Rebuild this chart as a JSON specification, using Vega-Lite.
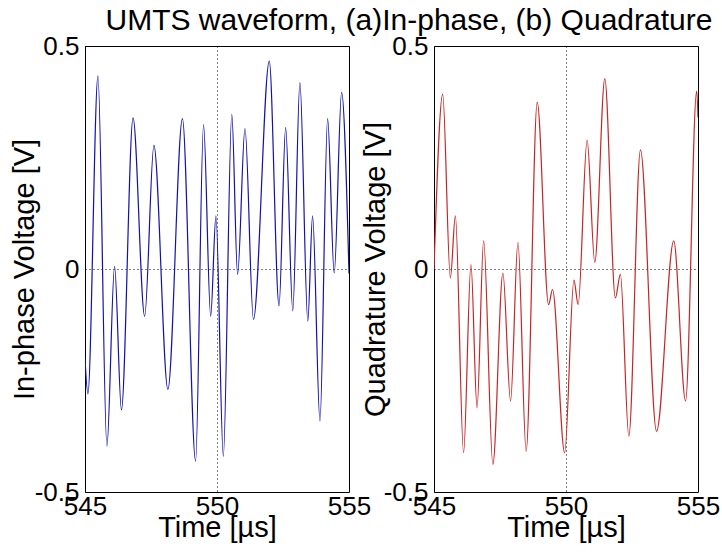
{
  "$schema": "https://vega.github.io/schema/vega-lite/v6.json",
  "background": "white",
  "padding": {"left": 9, "top": 5, "right": 5, "bottom": 5},
  "config": {
    "font": "Liberation Sans",
    "view": {"stroke": "black", "strokeWidth": 1},
    "axis": {
      "domain": false,
      "ticks": false,
      "grid": true,
      "gridColor": "black",
      "gridDash": [1, 3],
      "gridWidth": 1,
      "gridOpacity": 1,
      "labelColor": "black",
      "labelFontSize": 26,
      "labelFlush": false,
      "labelOverlap": false,
      "titleColor": "black",
      "titleFontSize": 29,
      "titleFontWeight": "normal",
      "labelExpr": "'' + datum.value"
    },
    "axisX": {"labelPadding": 1, "titlePadding": -6},
    "axisY": {"labelPadding": 6}
  },
  "datasets": {
    "I": [
      {"t": 545.00, "v": -0.20},
      {"t": 545.11, "v": -0.28},
      {"t": 545.49, "v": 0.433},
      {"t": 545.83, "v": -0.397},
      {"t": 546.12, "v": 0.006},
      {"t": 546.38, "v": -0.316},
      {"t": 546.82, "v": 0.339},
      {"t": 547.26, "v": -0.106},
      {"t": 547.61, "v": 0.277},
      {"t": 548.14, "v": -0.27},
      {"t": 548.69, "v": 0.337},
      {"t": 549.19, "v": -0.431},
      {"t": 549.49, "v": 0.324},
      {"t": 549.76, "v": -0.106},
      {"t": 549.96, "v": 0.119},
      {"t": 550.24, "v": -0.42},
      {"t": 550.56, "v": 0.347},
      {"t": 550.78, "v": -0.012},
      {"t": 551.06, "v": 0.315},
      {"t": 551.38, "v": -0.113},
      {"t": 551.98, "v": 0.466},
      {"t": 552.35, "v": -0.083},
      {"t": 552.60, "v": 0.317},
      {"t": 552.87, "v": -0.094},
      {"t": 553.14, "v": 0.418},
      {"t": 553.44, "v": -0.117},
      {"t": 553.62, "v": 0.119},
      {"t": 553.90, "v": -0.341},
      {"t": 554.19, "v": 0.337},
      {"t": 554.44, "v": -0.009},
      {"t": 554.72, "v": 0.396},
      {"t": 555.00, "v": -0.01}
    ],
    "Q": [
      {"t": 545.00, "v": 0.0},
      {"t": 545.33, "v": 0.392},
      {"t": 545.62, "v": -0.02},
      {"t": 545.81, "v": 0.119},
      {"t": 546.12, "v": -0.412},
      {"t": 546.40, "v": 0.01},
      {"t": 546.63, "v": -0.311},
      {"t": 546.88, "v": 0.063},
      {"t": 547.23, "v": -0.438},
      {"t": 547.61, "v": -0.009},
      {"t": 547.90, "v": -0.296},
      {"t": 548.18, "v": 0.06},
      {"t": 548.49, "v": -0.409},
      {"t": 548.91, "v": 0.374},
      {"t": 549.34, "v": -0.08},
      {"t": 549.49, "v": -0.046},
      {"t": 549.95, "v": -0.412},
      {"t": 550.30, "v": -0.025},
      {"t": 550.46, "v": -0.08},
      {"t": 550.80, "v": 0.289},
      {"t": 551.09, "v": 0.015},
      {"t": 551.47, "v": 0.427},
      {"t": 551.87, "v": -0.065},
      {"t": 552.06, "v": -0.012},
      {"t": 552.38, "v": -0.375},
      {"t": 552.82, "v": 0.267},
      {"t": 553.43, "v": -0.364},
      {"t": 554.08, "v": 0.063},
      {"t": 554.53, "v": -0.296},
      {"t": 554.95, "v": 0.399},
      {"t": 555.00, "v": 0.34}
    ]
  },
  "title": {
    "text": "UMTS waveform, (a)In-phase, (b) Quadrature",
    "fontSize": 30,
    "fontWeight": "normal",
    "color": "black",
    "anchor": "start",
    "dx": 96,
    "offset": -3
  },
  "bounds": "flush",
  "spacing": 85,
  "hconcat": [
    {
      "width": 264,
      "height": 446,
      "data": {"name": "I"},
      "mark": {"type": "line", "interpolate": "monotone", "color": "#1212a8", "strokeWidth": 1.2, "clip": true},
      "encoding": {
        "x": {"field": "t", "type": "quantitative", "scale": {"domain": [545, 555], "nice": false, "zero": false},
              "axis": {"values": [545, 550, 555], "title": "Time [µs]"}},
        "y": {"field": "v", "type": "quantitative", "scale": {"domain": [-0.5, 0.5], "nice": false},
              "axis": {"values": [-0.5, 0, 0.5], "title": "In-phase Voltage [V]", "titleX": -46}}
      }
    },
    {
      "width": 264,
      "height": 446,
      "data": {"name": "Q"},
      "mark": {"type": "line", "interpolate": "monotone", "color": "#c42626", "strokeWidth": 1.2, "clip": true},
      "encoding": {
        "x": {"field": "t", "type": "quantitative", "scale": {"domain": [545, 555], "nice": false, "zero": false},
              "axis": {"values": [545, 550, 555], "title": "Time [µs]"}},
        "y": {"field": "v", "type": "quantitative", "scale": {"domain": [-0.5, 0.5], "nice": false},
              "axis": {"values": [-0.5, 0, 0.5], "title": "Quadrature Voltage [V]", "titleX": -44}}
      }
    }
  ]
}
